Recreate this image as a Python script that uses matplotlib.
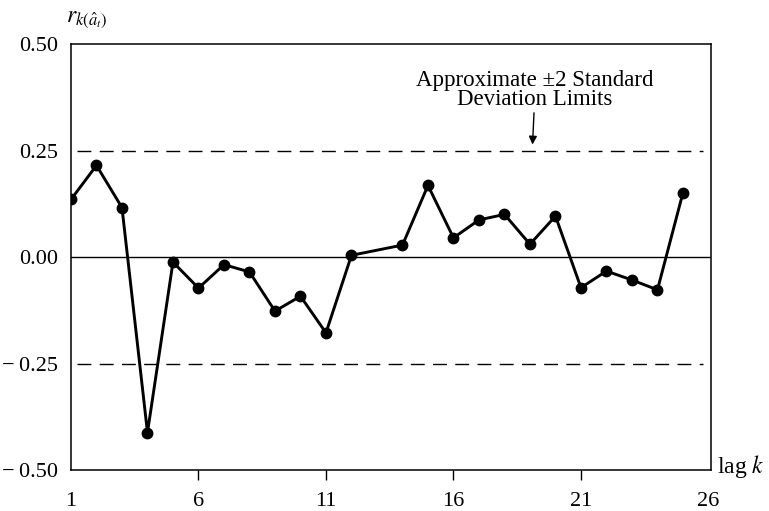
import matplotlib
matplotlib.use("Agg")
import matplotlib.pyplot as plt

plt.rcParams['font.family'] = ['Liberation Serif', 'DejaVu Serif']
plt.rcParams['mathtext.fontset'] = 'stix'

# residual autocorrelations by lag (lag 13 not plotted)
lags = [1, 2, 3, 4, 5, 6, 7, 8, 9, 10, 11, 12,
        14, 15, 16, 17, 18, 19, 20, 21, 22, 23, 24, 25]
r_k = [0.135, 0.215, 0.116, -0.412, -0.012, -0.073, -0.018, -0.035,
       -0.127, -0.092, -0.178, 0.004,
       0.028, 0.168, 0.045, 0.087, 0.100, 0.030, 0.096, -0.072,
       -0.033, -0.054, -0.077, 0.151]

limit = 0.25
x_ticks = [1, 6, 11, 16, 21, 26]
y_ticks = [-0.50, -0.25, 0.00, 0.25, 0.50]
y_labels = ['\u2212\u20090.50', '\u2212\u20090.25', '0.00', '0.25', '0.50']

fig = plt.figure(figsize=(7.69, 5.11), dpi=100)
ax = fig.add_axes([0.0923, 0.0802, 0.8323, 0.8337])

ax.plot(lags, r_k, color='black', lw=2.1, marker='o', ms=7.5, zorder=3)
ax.axhline(0, color='black', lw=1.0)
for s in (limit, -limit):
    ax.plot([1.25, 25.8], [s, s], color='black', lw=1.0, ls=(0, (10, 6)))

ax.set_xlim(1, 26.1)
ax.set_ylim(-0.5, 0.5)
ax.set_xticks(x_ticks)
ax.set_xticklabels([str(t) for t in x_ticks], fontsize=16)
ax.set_yticks(y_ticks)
ax.set_yticklabels(y_labels, fontsize=16)
ax.tick_params(axis='y', length=0, pad=9)
ax.tick_params(axis='x', length=7, width=1, direction='out', pad=9)
for t in ax.xaxis.get_major_ticks():
    if t.get_loc() in (1, 26):
        t.tick1line.set_visible(False)
for sp in ax.spines.values():
    sp.set_linewidth(1.1)

ax.annotate('Approximate \u00b12 Standard\nDeviation Limits',
            xy=(19.1, 0.264), xytext=(19.2, 0.345),
            ha='center', va='bottom', fontsize=16.5, linespacing=0.9,
            arrowprops=dict(arrowstyle='-|>', color='black', lw=1.0,
                            mutation_scale=12, shrinkA=0, shrinkB=0))

fig.text(0.086, 0.962, r'$r_{k(\hat{a}_t)}$', fontsize=17, ha='left', va='center')
fig.text(0.932, 0.087, 'lag $k$', fontsize=17, ha='left', va='center')

fig.savefig('out.png', dpi=100)
